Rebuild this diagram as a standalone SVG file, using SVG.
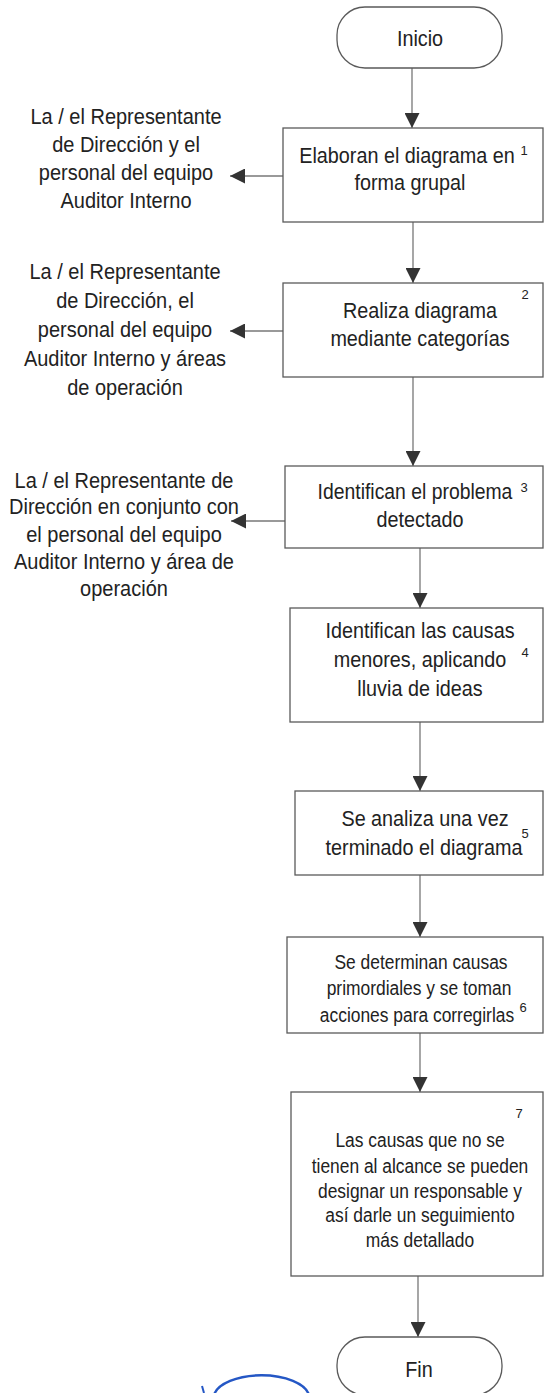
<svg xmlns="http://www.w3.org/2000/svg" width="545" height="1393" viewBox="0 0 545 1393">
<style>
  .box { fill: #ffffff; stroke: #5a5a5a; stroke-width: 1.3; }
  .t { font-family: "Liberation Sans", Arial, sans-serif; font-size: 22px; fill: #222222; text-anchor: middle; }
  .tl { font-family: "Liberation Sans", Arial, sans-serif; font-size: 21.5px; fill: #222222; text-anchor: middle; }
  .ts { font-family: "Liberation Sans", Arial, sans-serif; font-size: 20px; fill: #222222; text-anchor: middle; }
  .sup { font-family: "Liberation Sans", Arial, sans-serif; font-size: 13px; fill: #222222; text-anchor: middle; }
  .conn { stroke: #777777; stroke-width: 1.3; fill: none; marker-end: url(#ah); }
</style>
<defs>
  <marker id="ah" viewBox="0 0 10 10" refX="10" refY="5" markerUnits="userSpaceOnUse" markerWidth="16" markerHeight="15" orient="auto">
    <path d="M0,0 L10,5 L0,10 z" fill="#333333"/>
  </marker>
</defs>
<rect width="545" height="1393" fill="#ffffff"/>

<g id="connectors">
  <line class="conn" x1="412" y1="68" x2="412" y2="128"/>
  <line class="conn" x1="413" y1="222" x2="413" y2="283"/>
  <line class="conn" x1="413" y1="377" x2="413" y2="466"/>
  <line class="conn" x1="420" y1="548" x2="420" y2="608"/>
  <line class="conn" x1="420" y1="722" x2="420" y2="791"/>
  <line class="conn" x1="420" y1="875" x2="420" y2="937"/>
  <line class="conn" x1="420" y1="1033" x2="420" y2="1092"/>
  <line class="conn" x1="418" y1="1276" x2="418" y2="1337"/>
  <line class="conn" x1="283" y1="176" x2="230" y2="176"/>
  <line class="conn" x1="283" y1="331" x2="230" y2="331"/>
  <line class="conn" x1="285" y1="521" x2="231" y2="521"/>
</g>

<g id="inicio">
  <rect class="box" x="337" y="7" width="165" height="61" rx="28" ry="28"/>
  <text class="t" transform="translate(420 46) scale(0.9 1)">Inicio</text>
</g>

<g id="paso1">
  <rect class="box" x="283" y="128" width="260" height="94"/>
  <text class="t" transform="translate(407 163) scale(0.9 1)">Elaboran el diagrama en</text>
  <text class="sup" x="524" y="155">1</text>
  <text class="t" transform="translate(410 190) scale(0.9 1)">forma grupal</text>
</g>

<g id="resp1">
  <text class="tl" transform="translate(126 124) scale(0.93 1)">La / el Representante</text>
  <text class="tl" transform="translate(126 152) scale(0.93 1)">de Dirección y el</text>
  <text class="tl" transform="translate(126 180) scale(0.93 1)">personal del equipo</text>
  <text class="tl" transform="translate(126 208) scale(0.93 1)">Auditor Interno</text>
</g>

<g id="paso2">
  <rect class="box" x="283" y="283" width="260" height="94"/>
  <text class="t" transform="translate(420 318) scale(0.9 1)">Realiza diagrama</text>
  <text class="t" transform="translate(420 346) scale(0.9 1)">mediante categorías</text>
  <text class="sup" x="525" y="299">2</text>
</g>

<g id="resp2">
  <text class="tl" transform="translate(125 279) scale(0.93 1)">La / el Representante</text>
  <text class="tl" transform="translate(125 308) scale(0.93 1)">de Dirección, el</text>
  <text class="tl" transform="translate(125 337) scale(0.93 1)">personal del equipo</text>
  <text class="tl" transform="translate(125 366) scale(0.93 1)">Auditor Interno y áreas</text>
  <text class="tl" transform="translate(125 395) scale(0.93 1)">de operación</text>
</g>

<g id="paso3">
  <rect class="box" x="285" y="466" width="258" height="82"/>
  <text class="t" transform="translate(415 499) scale(0.88 1)">Identifican el problema</text>
  <text class="sup" x="524" y="492">3</text>
  <text class="t" transform="translate(420 527) scale(0.9 1)">detectado</text>
</g>

<g id="resp3">
  <text class="tl" transform="translate(124 488) scale(0.93 1)">La / el Representante de</text>
  <text class="tl" transform="translate(124 514) scale(0.93 1)">Dirección en conjunto con</text>
  <text class="tl" transform="translate(124 542) scale(0.93 1)">el personal del equipo</text>
  <text class="tl" transform="translate(124 569) scale(0.93 1)">Auditor Interno y área de</text>
  <text class="tl" transform="translate(124 596) scale(0.93 1)">operación</text>
</g>

<g id="paso4">
  <rect class="box" x="290" y="608" width="253" height="114"/>
  <text class="t" transform="translate(420 638) scale(0.9 1)">Identifican las causas</text>
  <text class="t" transform="translate(420 667) scale(0.9 1)">menores, aplicando</text>
  <text class="sup" x="525" y="657">4</text>
  <text class="t" transform="translate(420 696) scale(0.9 1)">lluvia de ideas</text>
</g>

<g id="paso5">
  <rect class="box" x="295" y="791" width="248" height="84"/>
  <text class="t" transform="translate(425 826) scale(0.9 1)">Se analiza una vez</text>
  <text class="t" transform="translate(424 855) scale(0.9 1)">terminado el diagrama</text>
  <text class="sup" x="525" y="838">5</text>
</g>

<g id="paso6">
  <rect class="box" x="287" y="937" width="256" height="96"/>
  <text class="ts" transform="translate(421 969) scale(0.87 1)">Se determinan causas</text>
  <text class="ts" transform="translate(419 995) scale(0.87 1)">primordiales y se toman</text>
  <text class="ts" transform="translate(417 1022) scale(0.87 1)">acciones para corregirlas</text>
  <text class="sup" x="523" y="1012">6</text>
</g>

<g id="paso7">
  <rect class="box" x="291" y="1092" width="252" height="184"/>
  <text class="sup" x="519" y="1118">7</text>
  <text class="ts" transform="translate(420 1147) scale(0.87 1)">Las causas que no se</text>
  <text class="ts" transform="translate(420 1173) scale(0.87 1)">tienen al alcance se pueden</text>
  <text class="ts" transform="translate(420 1198) scale(0.87 1)">designar un responsable y</text>
  <text class="ts" transform="translate(420 1222) scale(0.87 1)">así darle un seguimiento</text>
  <text class="ts" transform="translate(420 1247) scale(0.87 1)">más detallado</text>
</g>

<g id="fin">
  <rect class="box" x="337" y="1337" width="165" height="58" rx="28" ry="28"/>
  <text class="t" transform="translate(419 1377) scale(0.9 1)">Fin</text>
</g>

<g id="marca">
  <path d="M214 1395 A48 23 0 0 1 309 1395" fill="none" stroke="#2457c5" stroke-width="2.5"/>
  <path d="M202 1386 L204 1393" fill="none" stroke="#2457c5" stroke-width="2"/>
</g>
</svg>
